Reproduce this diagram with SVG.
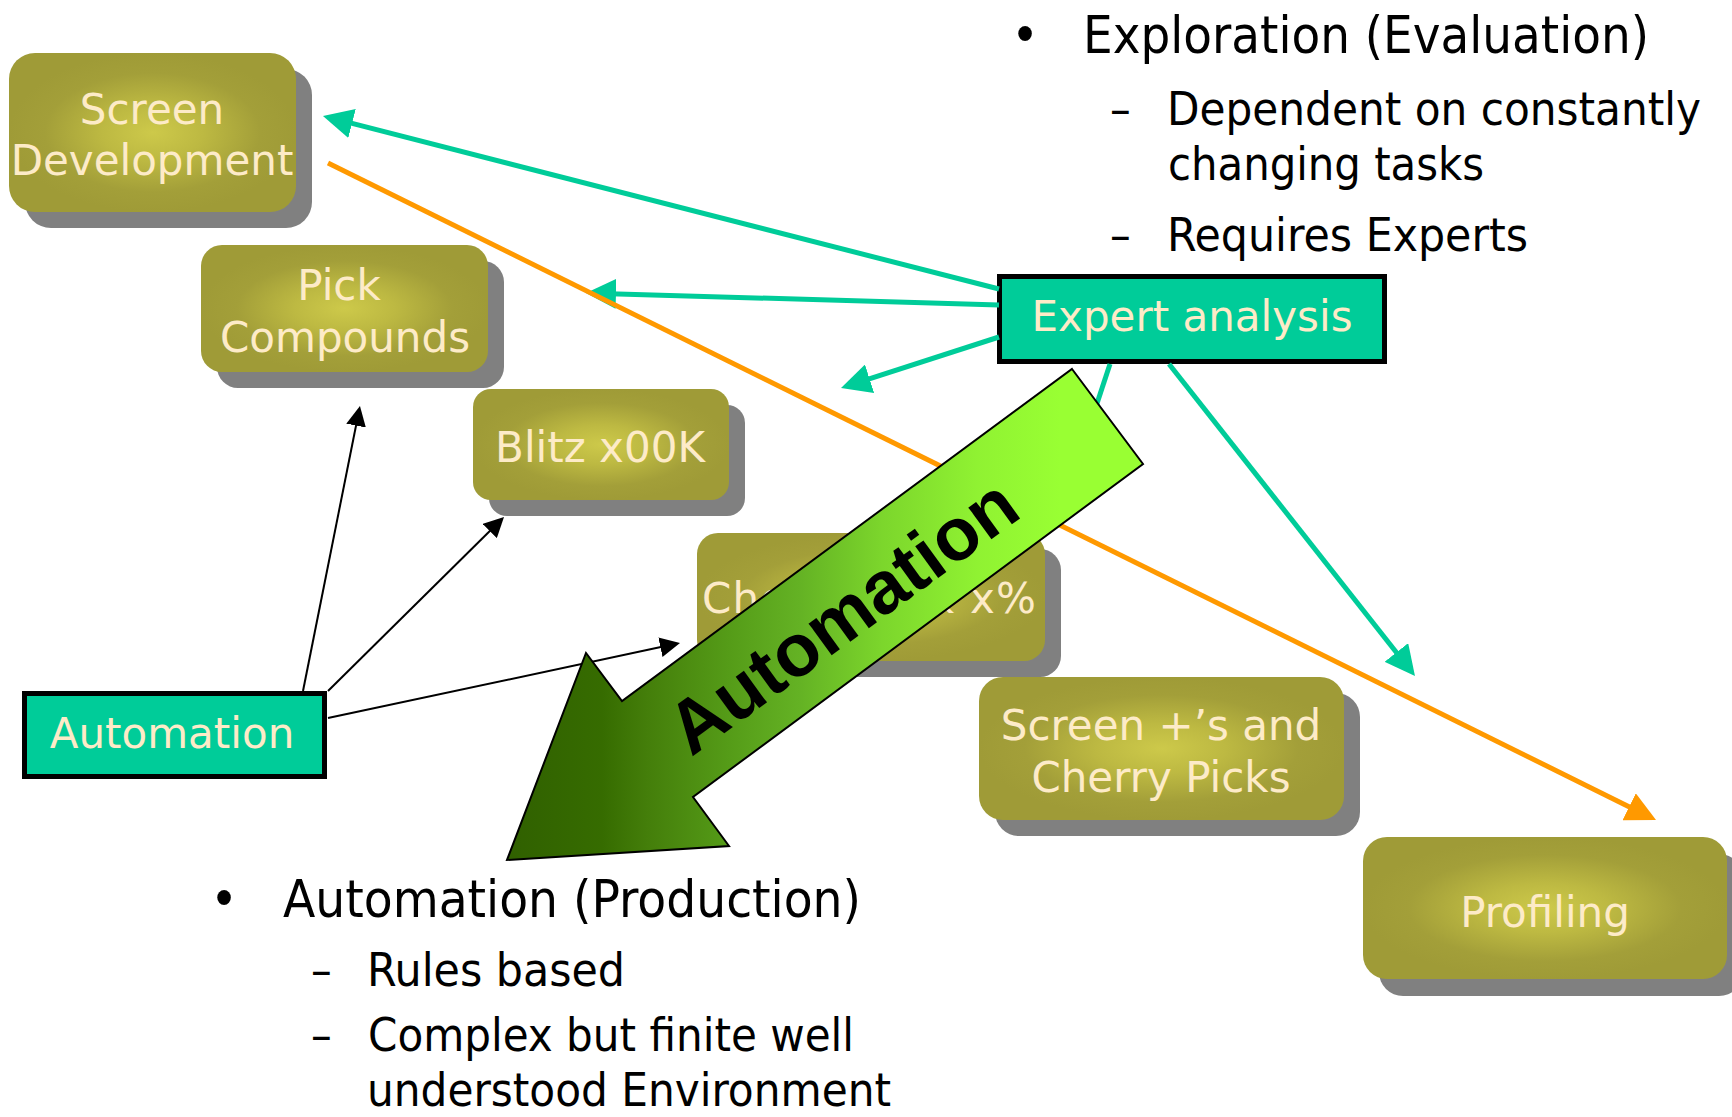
<svg xmlns="http://www.w3.org/2000/svg" width="1732" height="1117" viewBox="0 0 1732 1117">
<defs>
<style>
.shadow{fill:#808080}
.olive{fill:url(#oliveGrad)}
.ntxt{font-family:"DejaVu Sans","Verdana",sans-serif;font-size:42px;fill:#FDEBC8;text-anchor:middle}
.tealbox{fill:#00CC99;stroke:#000;stroke-width:5}
.teal{stroke:#00CC99;stroke-width:5;fill:none;marker-end:url(#headTeal)}
.orange{stroke:#FF9900;stroke-width:5;fill:none;marker-end:url(#headOrange)}
.black{stroke:#000;stroke-width:2;fill:none;marker-end:url(#headBlack)}
.b1{font-family:"DejaVu Sans Condensed","DejaVu Sans",sans-serif;font-stretch:condensed;font-size:52px;fill:#000}
.b2{font-family:"DejaVu Sans Condensed","DejaVu Sans",sans-serif;font-stretch:condensed;font-size:46px;fill:#000}
.arrowtxt{font-family:"Liberation Sans",Arial,sans-serif;font-weight:bold;font-size:74px;fill:#000;text-anchor:middle}
</style>
<radialGradient id="oliveGrad" cx="50%" cy="50%" r="50%">
<stop offset="0" stop-color="#cdc94a"/>
<stop offset="0.35" stop-color="#bdb942"/>
<stop offset="0.75" stop-color="#a39f39"/>
<stop offset="1" stop-color="#9f9b37"/>
</radialGradient>
<linearGradient id="greenGrad" gradientUnits="userSpaceOnUse" x1="507" y1="0" x2="1143" y2="0">
<stop offset="0" stop-color="#306000"/>
<stop offset="0.15" stop-color="#366c00"/>
<stop offset="0.22" stop-color="#447e0a"/>
<stop offset="0.35" stop-color="#559c18"/>
<stop offset="0.46" stop-color="#64b224"/>
<stop offset="0.59" stop-color="#7cd62c"/>
<stop offset="0.74" stop-color="#90f232"/>
<stop offset="0.87" stop-color="#99ff33"/>
<stop offset="1" stop-color="#99ff33"/>
</linearGradient>
<marker id="headTeal" viewBox="0 0 30 30" refX="15" refY="15" markerWidth="30" markerHeight="30" markerUnits="userSpaceOnUse" orient="auto">
<path d="M0,0 L30,15 L0,30 Z" fill="#00CC99"/>
</marker>
<marker id="headOrange" viewBox="0 0 30 30" refX="15" refY="15" markerWidth="30" markerHeight="30" markerUnits="userSpaceOnUse" orient="auto">
<path d="M0,0 L30,15 L0,30 Z" fill="#FF9900"/>
</marker>
<marker id="headBlack" viewBox="0 0 20 20" refX="10" refY="10" markerWidth="20" markerHeight="20" markerUnits="userSpaceOnUse" orient="auto">
<path d="M0,0 L20,10 L0,20 Z" fill="#000"/>
</marker>
</defs>
<rect width="1732" height="1117" fill="#fff"/>

<g id="node-screen-development">
<rect class="shadow" x="25" y="69" width="287" height="159" rx="26"/>
<rect class="olive" x="9" y="53" width="287" height="159" rx="26"/>
<text class="ntxt" x="152" y="124">Screen</text>
<text class="ntxt" x="152" y="175">Development</text>
</g>
<g id="node-pick-compounds">
<rect class="shadow" x="217" y="261" width="287" height="127" rx="21"/>
<rect class="olive" x="201" y="245" width="287" height="127" rx="21"/>
<text class="ntxt" x="339" y="300">Pick</text>
<text class="ntxt" x="345" y="352">Compounds</text>
</g>
<g id="node-blitz">
<rect class="shadow" x="489" y="405" width="256" height="111" rx="18"/>
<rect class="olive" x="473" y="389" width="256" height="111" rx="18"/>
<text class="ntxt" x="600" y="462">Blitz x00K</text>
</g>
<g id="node-cherry-pick">
<rect class="shadow" x="713" y="549" width="348" height="128" rx="21"/>
<rect class="olive" x="697" y="533" width="348" height="128" rx="21"/>
<text class="ntxt" x="702" y="613" style="text-anchor:start" textLength="334">Cherry pick x%</text>
</g>
<g id="node-screen-plus">
<rect class="shadow" x="995" y="693" width="365" height="143" rx="24"/>
<rect class="olive" x="979" y="677" width="365" height="143" rx="24"/>
<text class="ntxt" x="1161" y="740">Screen +’s and</text>
<text class="ntxt" x="1161" y="792">Cherry Picks</text>
</g>
<g id="node-profiling">
<rect class="shadow" x="1379" y="854" width="364" height="142" rx="24"/>
<rect class="olive" x="1363" y="837" width="364" height="142" rx="24"/>
<text class="ntxt" x="1545" y="927">Profiling</text>
</g>
<g id="node-expert-analysis">
<rect class="tealbox" x="999.5" y="276.5" width="385" height="85"/>
<text class="ntxt" x="1192" y="331">Expert analysis</text>
</g>
<g id="node-automation">
<rect class="tealbox" x="24.5" y="693.5" width="300" height="83"/>
<text class="ntxt" x="172" y="748">Automation</text>
</g>

<g id="connectors">
<line class="teal" x1="999" y1="289" x2="337.5" y2="119.7"/>
<line class="teal" x1="999" y1="305" x2="601" y2="293.4"/>
<line class="teal" x1="999" y1="337" x2="855.3" y2="383.4"/>
<line class="teal" x1="1110" y1="364" x2="1086.7" y2="434.8"/>
<line class="teal" x1="1169" y1="364" x2="1405.7" y2="664.2"/>
<line class="orange" x1="328" y1="163" x2="1642.6" y2="813.4"/>
<line class="black" x1="303" y1="691" x2="358" y2="415.8"/>
<line class="black" x1="328" y1="691" x2="496.9" y2="524"/>
<line class="black" x1="328" y1="718" x2="670.2" y2="645.1"/>
</g>

<g id="automation-arrow">
<polygon points="1072,369 1143,464 693,797 729,846 507,860 586,653 622,701" fill="url(#greenGrad)" stroke="#000" stroke-width="2" stroke-linejoin="miter"/>
<text class="arrowtxt" transform="translate(857.5,636.5) rotate(-36)" x="0" y="0">Automation</text>
</g>

<g id="exploration-text">
<text class="b1" x="1025" y="53" style="text-anchor:middle">•</text>
<text class="b1" x="1083" y="53" textLength="566" lengthAdjust="spacingAndGlyphs">Exploration (Evaluation)</text>
<text class="b2" x="1110" y="125">–</text>
<text class="b2" x="1167" y="125" textLength="534" lengthAdjust="spacingAndGlyphs">Dependent on constantly</text>
<text class="b2" x="1168" y="180" textLength="316" lengthAdjust="spacingAndGlyphs">changing tasks</text>
<text class="b2" x="1110" y="251">–</text>
<text class="b2" x="1167" y="251" textLength="361" lengthAdjust="spacingAndGlyphs">Requires Experts</text>
</g>
<g id="automation-text">
<text class="b1" x="224" y="917" style="text-anchor:middle">•</text>
<text class="b1" x="283" y="917" textLength="578" lengthAdjust="spacingAndGlyphs">Automation (Production)</text>
<text class="b2" x="311" y="986">–</text>
<text class="b2" x="367" y="986" textLength="258" lengthAdjust="spacingAndGlyphs">Rules based</text>
<text class="b2" x="311" y="1051">–</text>
<text class="b2" x="368" y="1051" textLength="486" lengthAdjust="spacingAndGlyphs">Complex but finite well</text>
<text class="b2" x="367" y="1106" textLength="524" lengthAdjust="spacingAndGlyphs">understood Environment</text>
</g>
</svg>
